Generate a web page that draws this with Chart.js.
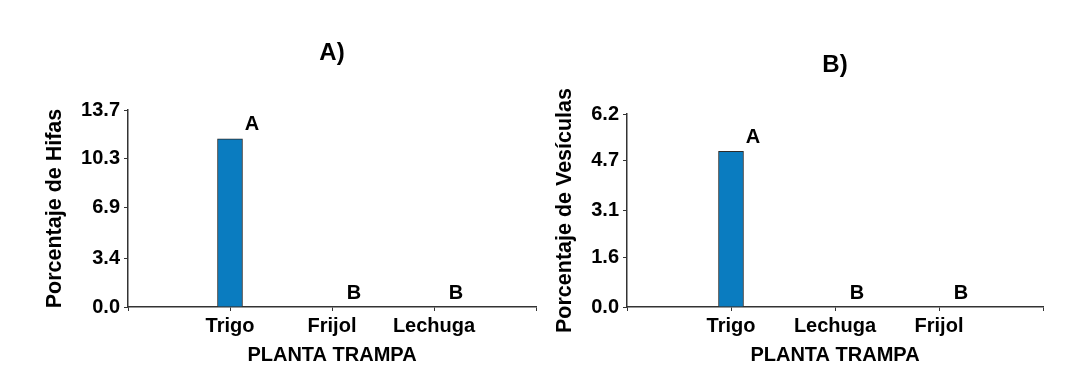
<!DOCTYPE html>
<html>
<head>
<meta charset="utf-8">
<script src="https://cdn.jsdelivr.net/npm/chart.js@4/dist/chart.umd.min.js"></script>
<style>
  body { margin: 0; background: #fff; }
  .panel { position: absolute; top: 0; width: 545px; height: 383px; }
  #wrapA { left: 0; }
  #wrapB { left: 545px; }
</style>
</head>
<body>
<div class="panel" id="wrapA"><canvas id="chartA"></canvas></div>
<div class="panel" id="wrapB"><canvas id="chartB"></canvas></div>
<script>
// panel A
const categoriesA = ["Trigo", "Frijol", "Lechuga"];
const valuesA = [11.7, 0, 0];
const lettersA = ["A", "B", "B"];
const yTicksA = [0, 3.4, 6.9, 10.3, 13.7];

// panel B
const categoriesB = ["Trigo", "Lechuga", "Frijol"];
const valuesB = [5.0, 0, 0];
const lettersB = ["A", "B", "B"];
const yTicksB = [0, 1.6, 3.1, 4.7, 6.2];

const FONT = "'Liberation Sans', Arial, sans-serif";
const AXIS = '#333';

// letters of the mean comparison, drawn next to each bar
const letterPlugin = {
    id: 'letters',
    afterDatasetsDraw(chart, args, opts) {
        const ctx = chart.ctx;
        const xs = chart.scales.x, ys = chart.scales.y;
        ctx.save();
        ctx.font = "bold 20px " + FONT;
        ctx.fillStyle = '#000';
        ctx.textAlign = 'center';
        ctx.textBaseline = 'middle';
        opts.letters.forEach((l, i) => {
            const x = xs.getPixelForValue(i + 1) + 22;
            const y = ys.getPixelForValue(opts.values[i]) - 14;
            ctx.fillText(l, x, y);
        });
        ctx.restore();
    }
};

function makeChart(id, cats, vals, letters, yTicks, o) {
    // empty slots on both ends so the bars sit like in the original
    const labels = [""].concat(cats, [""]);
    const data = [null].concat(vals, [null]);

    return new Chart(document.getElementById(id), {
        type: 'bar',
        data: {
            labels: labels,
            datasets: [{
                data: data,
                backgroundColor: '#0a7cc0',
                borderColor: '#2b2b2b',
                borderWidth: 1,
                barThickness: 25
            }]
        },
        options: {
            responsive: true,
            maintainAspectRatio: false,
            animation: false,
            layout: { padding: { left: 0, right: o.padRight, top: 0, bottom: 0 } },
            scales: {
                x: {
                    offset: false,
                    border: { display: true, color: AXIS, width: 1.5 },
                    grid: { offset: false, drawOnChartArea: false, drawTicks: true, tickLength: 4, color: AXIS },
                    ticks: {
                        color: '#000',
                        padding: 3,
                        autoSkip: false,
                        maxRotation: 0,
                        font: { family: FONT, size: 20, weight: 'bold' }
                    },
                    title: {
                        display: true,
                        text: 'PLANTA TRAMPA',
                        color: '#000',
                        font: { family: FONT, size: 20, weight: 'bold' },
                        padding: { top: 0, bottom: 16 }
                    },
                    afterFit(scale) { scale.height = 76; }
                },
                y: {
                    min: 0,
                    max: yTicks[yTicks.length - 1],
                    border: { display: true, color: AXIS, width: 1.5 },
                    grid: { drawOnChartArea: false, drawTicks: true, tickLength: 4, color: AXIS },
                    afterBuildTicks(scale) {
                        scale.ticks = yTicks.map(v => ({ value: v }));
                    },
                    ticks: {
                        color: '#000',
                        padding: 4,
                        font: { family: FONT, size: 20, weight: 'bold' },
                        callback: v => v.toFixed(1)
                    },
                    title: {
                        display: true,
                        text: o.yTitle,
                        color: '#000',
                        font: { family: FONT, size: 21.5, weight: 'bold' },
                        padding: { top: o.yTitlePad, bottom: 0 }
                    },
                    afterFit(scale) { scale.width = o.yWidth; }
                }
            },
            plugins: {
                legend: { display: false },
                tooltip: { enabled: false },
                title: {
                    display: true,
                    text: o.title,
                    fullSize: false,
                    color: '#000',
                    font: { family: FONT, size: 24, weight: 'bold' },
                    padding: { top: o.titleTop, bottom: o.titleBottom }
                },
                letters: { letters: letters, values: vals }
            }
        },
        plugins: [letterPlugin]
    });
}

makeChart('chartA', categoriesA, valuesA, lettersA, yTicksA, {
    title: 'A)', yTitle: 'Porcentaje de Hifas',
    yWidth: 128, yTitlePad: 42, padRight: 9, titleTop: 38.6, titleBottom: 42.6
});

makeChart('chartB', categoriesB, valuesB, lettersB, yTicksB, {
    title: 'B)', yTitle: 'Porcentaje de Vesículas',
    yWidth: 82, yTitlePad: 7, padRight: 47, titleTop: 50.6, titleBottom: 34.6
});
</script>
</body>
</html>
